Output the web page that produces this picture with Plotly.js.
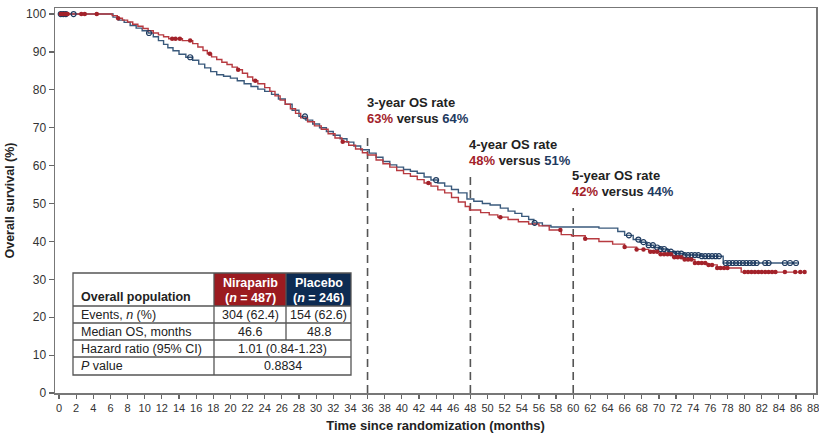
<!DOCTYPE html>
<html><head><meta charset="utf-8">
<script src="https://cdn.plot.ly/plotly-3.0.1.min.js"></script>
<style>html,body{margin:0;padding:0;background:#fff;}#chart{width:819px;height:437px;}</style>
</head><body><div id="chart"></div>
<script>
// ---- Data ----
const nirTime = [0, 6.2, 6.8, 7.4, 8.0, 8.6, 9.2, 9.8, 10.4, 11.0, 11.6, 12.2, 12.8, 14.4, 15.6, 16.2, 16.8, 17.3, 17.8, 18.4, 19.0, 19.6, 20.2, 20.8, 21.4, 22.0, 22.6, 23.2, 24.0, 24.6, 25.2, 25.8, 26.4, 27.0, 27.6, 28.2, 29.0, 29.8, 30.6, 31.4, 32.2, 33.0, 33.8, 34.6, 35.4, 36.0, 37.0, 37.8, 38.6, 39.4, 40.2, 41.0, 41.8, 42.6, 43.4, 44.2, 45.0, 45.8, 46.6, 47.4, 47.9, 49.2, 50.2, 51.2, 52.4, 53.6, 54.8, 56.0, 57.2, 58.6, 59.8, 61.4, 63.0, 64.6, 66.0, 67.4, 68.8, 70.2, 71.6, 73.0, 74.2, 75.6, 76.8, 79.6, 87.0];
const nirSurv = [100, 99.6, 98.9, 98.4, 97.9, 97.3, 96.8, 96.2, 95.6, 95.0, 94.5, 94.0, 93.5, 93.0, 92.2, 91.3, 90.4, 89.5, 88.7, 88.0, 87.3, 86.7, 86.0, 85.3, 84.4, 83.4, 82.4, 81.6, 80.6, 79.6, 78.4, 77.3, 76.2, 75.0, 73.8, 72.6, 71.6, 70.5, 69.6, 68.4, 67.3, 66.3, 65.4, 64.4, 63.4, 62.8, 61.5, 60.5, 59.6, 58.7, 57.9, 57.2, 56.3, 55.4, 54.6, 53.6, 52.8, 51.6, 50.4, 49.2, 48.3, 47.6, 47.0, 46.4, 45.8, 45.2, 44.6, 44.1, 43.0, 41.8, 41.5, 40.7, 40.0, 39.3, 38.5, 37.9, 37.3, 36.6, 35.8, 35.2, 34.3, 33.8, 33.0, 31.9, 31.9];
const plaTime = [0, 6.3, 6.9, 7.6, 8.3, 9.0, 9.7, 10.4, 11.0, 11.6, 12.2, 12.7, 13.3, 14.0, 14.8, 15.6, 16.3, 17.0, 17.7, 18.4, 19.2, 20.0, 20.8, 21.6, 22.4, 23.2, 24.0, 24.8, 25.6, 26.4, 27.2, 28.0, 28.8, 29.6, 30.4, 31.2, 32.0, 32.8, 33.6, 34.4, 35.2, 36.2, 37.0, 37.8, 38.6, 39.4, 40.2, 41.0, 41.8, 42.6, 43.4, 44.2, 45.0, 45.8, 46.6, 47.6, 48.4, 49.4, 50.3, 51.5, 52.4, 53.2, 54.0, 54.8, 55.4, 56.4, 57.4, 63.0, 65.2, 66.0, 67.0, 67.8, 68.6, 69.4, 70.2, 71.0, 71.8, 73.0, 75.0, 77.5, 86.2];
const plaSurv = [100, 99.2, 98.4, 97.8, 97.0, 96.3, 95.6, 95.0, 94.0, 93.0, 92.0, 91.1, 90.3, 89.4, 88.6, 87.8, 86.8, 85.8, 84.8, 84.0, 83.6, 83.1, 82.4, 81.6, 80.9, 80.2, 79.6, 78.8, 77.6, 76.2, 74.6, 73.0, 72.0, 71.0, 70.0, 69.0, 68.0, 67.1, 66.2, 65.2, 64.2, 63.3, 62.2, 61.1, 60.2, 59.6, 59.0, 58.5, 58.0, 57.0, 56.2, 55.4, 54.6, 53.7, 52.8, 51.2, 50.6, 50.0, 49.6, 48.8, 48.0, 47.4, 46.6, 45.8, 44.9, 44.2, 43.8, 43.5, 42.6, 41.6, 40.5, 39.8, 39.0, 38.4, 38.0, 37.3, 36.8, 36.4, 36.1, 34.3, 34.3];
const nirCensor = [0.2, 0.4, 0.6, 0.8, 1.0, 2.6, 3.0, 4.4, 6.9, 13.2, 13.6, 14.1, 15.3, 17.6, 20.9, 22.9, 33.1, 43.1, 51.5, 58.5, 61.4, 66.0, 67.4, 68.2, 69.0, 69.4, 69.8, 70.2, 70.6, 71.0, 71.4, 71.8, 72.2, 72.6, 73.0, 73.4, 73.8, 74.2, 74.6, 75.0, 75.4, 75.8, 76.2, 76.8, 77.2, 77.6, 78.0, 80.0, 80.4, 80.8, 81.2, 81.6, 82.0, 82.4, 82.8, 83.2, 83.6, 84.7, 85.9, 86.5, 87.0];
const plaCensor = [0.2, 0.5, 0.8, 1.7, 10.5, 15.3, 28.7, 44.0, 55.5, 66.5, 67.6, 68.2, 68.8, 69.3, 69.8, 70.2, 70.6, 71.0, 71.4, 71.8, 72.2, 72.6, 73.0, 73.4, 73.8, 74.2, 74.6, 75.0, 75.4, 75.8, 76.2, 76.6, 77.0, 77.8, 78.2, 78.6, 79.0, 79.4, 79.8, 80.2, 80.6, 81.0, 81.4, 82.4, 82.8, 84.7, 85.3, 86.0];
const landmarkMonths = [36, 48, 60];
const landmarkYears = ["3-year", "4-year", "5-year"];
const nirRates = ["63%", "48%", "42%"];
const plaRates = ["64%", "51%", "44%"];
const xTicks = [];
for (let t = 0; t <= 88; t += 2) xTicks.push(t);
const tableHeader = ["Overall population", "Niraparib", "(<i>n</i> = 487)", "Placebo", "(<i>n</i> = 246)"];
const rowLabels = ["Events, <i>n</i> (%)", "Median OS, months", "Hazard ratio (95% CI)", "<i>P</i> value"];
const nirCol = ["304 (62.4)", "46.6"];
const plaCol = ["154 (62.6)", "48.8"];
const spanCol = ["1.01 (0.84-1.23)", "0.8834"];

// ---- helpers ----
function stepAt(times, surv, t) {
  let v = surv[0];
  for (let i = 0; i < times.length; i++) { if (times[i] <= t) v = surv[i]; else break; }
  return v;
}
const RED = '#b73a40', REDM = '#a3222a', BLUE = '#3a5a7c', BLUEM = '#1e3a5f';
const FONT = 'Liberation Sans, Arial, Helvetica, sans-serif';

// plot area in pixels
const PL = 55, PR = 816, PT = 8, PB = 393;
const X = px => (px - PL) / (PR - PL);
const Y = py => (PB - py) / (PB - PT);

const traces = [
  {x: plaTime, y: plaSurv, type: 'scatter', mode: 'lines', line: {shape: 'hv', color: BLUE, width: 1.4}, hoverinfo: 'skip'},
  {x: nirTime, y: nirSurv, type: 'scatter', mode: 'lines', line: {shape: 'hv', color: RED, width: 1.4}, hoverinfo: 'skip'},
  {x: plaCensor, y: plaCensor.map(t => stepAt(plaTime, plaSurv, t)), type: 'scatter', mode: 'markers',
   marker: {symbol: 'circle-open', size: 5, color: BLUEM, line: {width: 1.2, color: BLUEM}}, hoverinfo: 'skip'},
  {x: nirCensor, y: nirCensor.map(t => stepAt(nirTime, nirSurv, t)), type: 'scatter', mode: 'markers',
   marker: {symbol: 'circle', size: 4.5, color: REDM}, hoverinfo: 'skip'}
];

const shapes = [];
const annotations = [];
const lineTops = [68.1, 57.0, 48.8];
landmarkMonths.forEach((m, i) => {
  shapes.push({type: 'line', xref: 'x', yref: 'y', x0: m, x1: m, y0: 0, y1: lineTops[i],
    line: {color: '#555', width: 1.6, dash: '8px,5px'}, layer: 'below'});
  const yTop = lineTops[i] + 8.6, yBot = lineTops[i] + 4.4;
  annotations.push({xref: 'x', yref: 'y', x: m, y: yTop, xanchor: 'left', yanchor: 'middle', xshift: -3, showarrow: false,
    text: '<b>' + landmarkYears[i] + ' OS rate</b>', font: {family: FONT, size: 13, color: '#222'}});
  annotations.push({xref: 'x', yref: 'y', x: m, y: yBot, xanchor: 'left', yanchor: 'middle', xshift: -3, showarrow: false,
    text: '<b><span style="color:' + REDM + '">' + nirRates[i] + '</span> versus <span style="color:' + BLUEM + '">' + plaRates[i] + '</span></b>',
    font: {family: FONT, size: 13, color: '#222'}});
});

// table
const tL = 73, tR = 351, tT = 273, c1 = 214, c2 = 286;
const rows = [306, 323, 340, 357, 375];
shapes.push({type: 'rect', xref: 'paper', yref: 'paper', x0: X(tL), x1: X(tR), y0: Y(rows[4]), y1: Y(tT), fillcolor: '#fff', line: {width: 0}});
shapes.push({type: 'rect', xref: 'paper', yref: 'paper', x0: X(c1), x1: X(c2), y0: Y(rows[0]), y1: Y(tT), fillcolor: '#9b1b20', line: {width: 0}});
shapes.push({type: 'rect', xref: 'paper', yref: 'paper', x0: X(c2), x1: X(tR), y0: Y(rows[0]), y1: Y(tT), fillcolor: '#0d2b52', line: {width: 0}});
const tLine = {color: '#555', width: 1.3};
shapes.push({type: 'rect', xref: 'paper', yref: 'paper', x0: X(tL), x1: X(tR), y0: Y(rows[4]), y1: Y(tT), line: tLine});
for (let i = 0; i < 4; i++) shapes.push({type: 'line', xref: 'paper', yref: 'paper', x0: X(tL), x1: X(tR), y0: Y(rows[i]), y1: Y(rows[i]), line: tLine});
shapes.push({type: 'line', xref: 'paper', yref: 'paper', x0: X(c1), x1: X(c1), y0: Y(rows[4]), y1: Y(tT), line: tLine});
shapes.push({type: 'line', xref: 'paper', yref: 'paper', x0: X(c2), x1: X(c2), y0: Y(rows[2]), y1: Y(tT), line: tLine});

const tf = {family: FONT, size: 12.5, color: '#222'};
const tfw = {family: FONT, size: 12.5, color: '#fff'};
function txt(px, py, text, anchor, font) {
  annotations.push({xref: 'paper', yref: 'paper', x: X(px), y: Y(py), xanchor: anchor, yanchor: 'middle', showarrow: false, text: text, font: font});
}
txt(79, 297, '<b>' + tableHeader[0] + '</b>', 'left', tf);
txt((c1 + c2) / 2, 283, '<b>' + tableHeader[1] + '</b>', 'center', tfw);
txt((c1 + c2) / 2, 298, '<b>' + tableHeader[2] + '</b>', 'center', tfw);
txt((c2 + tR) / 2, 283, '<b>' + tableHeader[3] + '</b>', 'center', tfw);
txt((c2 + tR) / 2, 298, '<b>' + tableHeader[4] + '</b>', 'center', tfw);
for (let i = 0; i < 4; i++) {
  const yc = (rows[i] + rows[i + 1]) / 2;
  txt(79, yc, rowLabels[i], 'left', tf);
  if (i < 2) {
    txt((c1 + c2) / 2, yc, nirCol[i], 'center', tf);
    txt((c2 + tR) / 2, yc, plaCol[i], 'center', tf);
  } else {
    txt((c1 + tR) / 2, yc, spanCol[i - 2], 'center', tf);
  }
}

const layout = {
  width: 819, height: 437,
  margin: {l: PL, r: 819 - PR, t: PT, b: 437 - PB},
  paper_bgcolor: '#fff', plot_bgcolor: '#fff',
  showlegend: false,
  font: {family: FONT, color: '#333'},
  xaxis: {
    range: [-0.47, 88.33], tickmode: 'array', tickvals: xTicks, ticktext: xTicks.map(String),
    ticks: 'outside', ticklen: 4, tickwidth: 1.2, tickcolor: '#666', ticklabeloverflow: 'allow',
    showline: true, linecolor: '#777', linewidth: 1.5, mirror: true, showgrid: false, zeroline: false,
    tickfont: {family: FONT, size: 11, color: '#333'}, automargin: false,
    title: {text: '<b>Time since randomization (months)</b>', font: {family: FONT, size: 13, color: '#222'}, standoff: 8}
  },
  yaxis: {
    range: [0, 101.6], tickmode: 'array', tickvals: [0,10,20,30,40,50,60,70,80,90,100],
    ticks: 'outside', ticklen: 5, tickwidth: 1.2, tickcolor: '#666',
    showline: true, linecolor: '#777', linewidth: 1.5, mirror: true, showgrid: false, zeroline: false,
    tickfont: {family: FONT, size: 12, color: '#333'}, automargin: false,
    title: {text: '<b>Overall survival (%)</b>', font: {family: FONT, size: 12.5, color: '#222'}, standoff: 8}
  },
  shapes: shapes,
  annotations: annotations
};
Plotly.newPlot('chart', traces, layout, {displayModeBar: false, staticPlot: true});
</script></body></html>
